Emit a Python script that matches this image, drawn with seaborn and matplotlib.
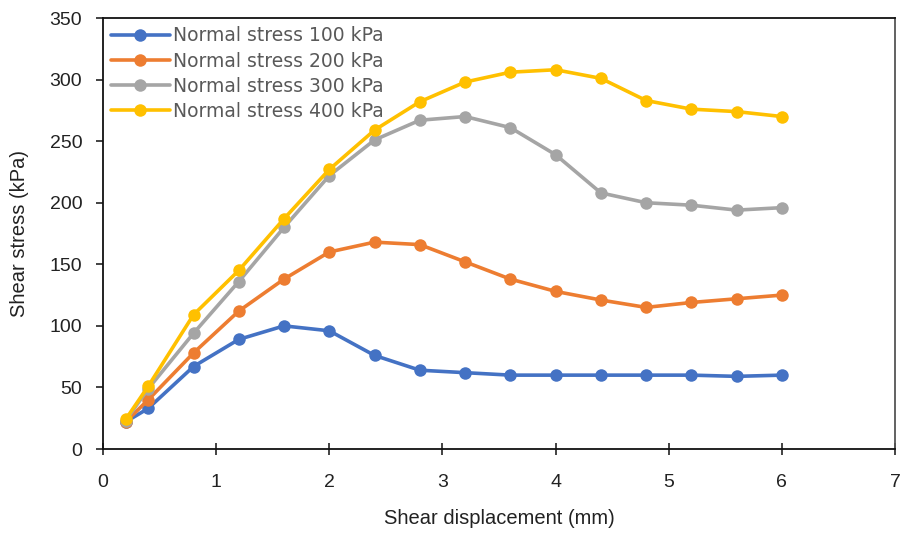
import matplotlib
matplotlib.use("Agg")
import matplotlib.pyplot as plt
import seaborn as sns
import pandas as pd

# Shear displacement (mm)
displacement = [0.2, 0.4, 0.8, 1.2, 1.6, 2.0, 2.4, 2.8, 3.2, 3.6, 4.0, 4.4, 4.8, 5.2, 5.6, 6.0]

# Shear stress (kPa) for each normal stress level
stress_100 = [22, 33, 67, 89, 100, 96, 76, 64, 62, 60, 60, 60, 60, 60, 59, 60]
stress_200 = [22, 40, 78, 112, 138, 160, 168, 166, 152, 138, 128, 121, 115, 119, 122, 125]
stress_300 = [23, 49, 94, 136, 180, 222, 251, 267, 270, 261, 239, 208, 200, 198, 194, 196]
stress_400 = [24, 51, 109, 145, 187, 227, 259, 282, 298, 306, 308, 301, 283, 276, 274, 270]

labels = ["Normal stress 100 kPa", "Normal stress 200 kPa",
          "Normal stress 300 kPa", "Normal stress 400 kPa"]
colors = ["#4472C4", "#ED7D31", "#A5A5A5", "#FFC000"]

frames = []
for lab, vals in zip(labels, [stress_100, stress_200, stress_300, stress_400]):
    frames.append(pd.DataFrame({"x": displacement, "y": vals, "series": lab}))
df = pd.concat(frames, ignore_index=True)

sns.set_theme(style="white")
plt.rcParams["font.family"] = ["Liberation Sans", "DejaVu Sans"]

fig = plt.figure(figsize=(9.05, 5.38), dpi=100)
ax = fig.add_axes([0.1138, 0.1654, 0.8752, 0.8011])

sns.lineplot(data=df, x="x", y="y", hue="series", palette=colors,
             marker="o", markersize=9, markeredgewidth=0, linewidth=2.6,
             ax=ax, sort=False)

ax.set_xlim(0, 7)
ax.set_ylim(0, 350)
ax.set_xticks(range(0, 8))
ax.set_yticks(range(0, 351, 50))
ax.tick_params(axis="both", labelsize=14, colors="#222222", length=5, width=1.2)
ax.tick_params(axis="x", direction="inout", length=8, pad=14)
ax.tick_params(axis="y", direction="out", pad=10)
ax.xaxis.set_ticks_position("bottom")
ax.yaxis.set_ticks_position("left")

for side in ["left", "bottom", "top", "right"]:
    ax.spines[side].set_visible(True)
    ax.spines[side].set_color("#111111")
    ax.spines[side].set_linewidth(1.3)
ax.spines["right"].set_color("#555555")

ax.set_xlabel("Shear displacement (mm)", fontsize=14.5, color="#222222", labelpad=13)
ax.set_ylabel("Shear stress (kPa)", fontsize=14.5, color="#222222", labelpad=15)

leg = ax.legend(loc="upper left", frameon=False,
                borderaxespad=0.05, handlelength=3.1, labelspacing=0.33,
                handletextpad=0.2, prop={"family": ["DejaVu Sans"], "size": 13.5})
for t in leg.get_texts():
    t.set_color("#595959")

fig.savefig("out.png", dpi=100)
